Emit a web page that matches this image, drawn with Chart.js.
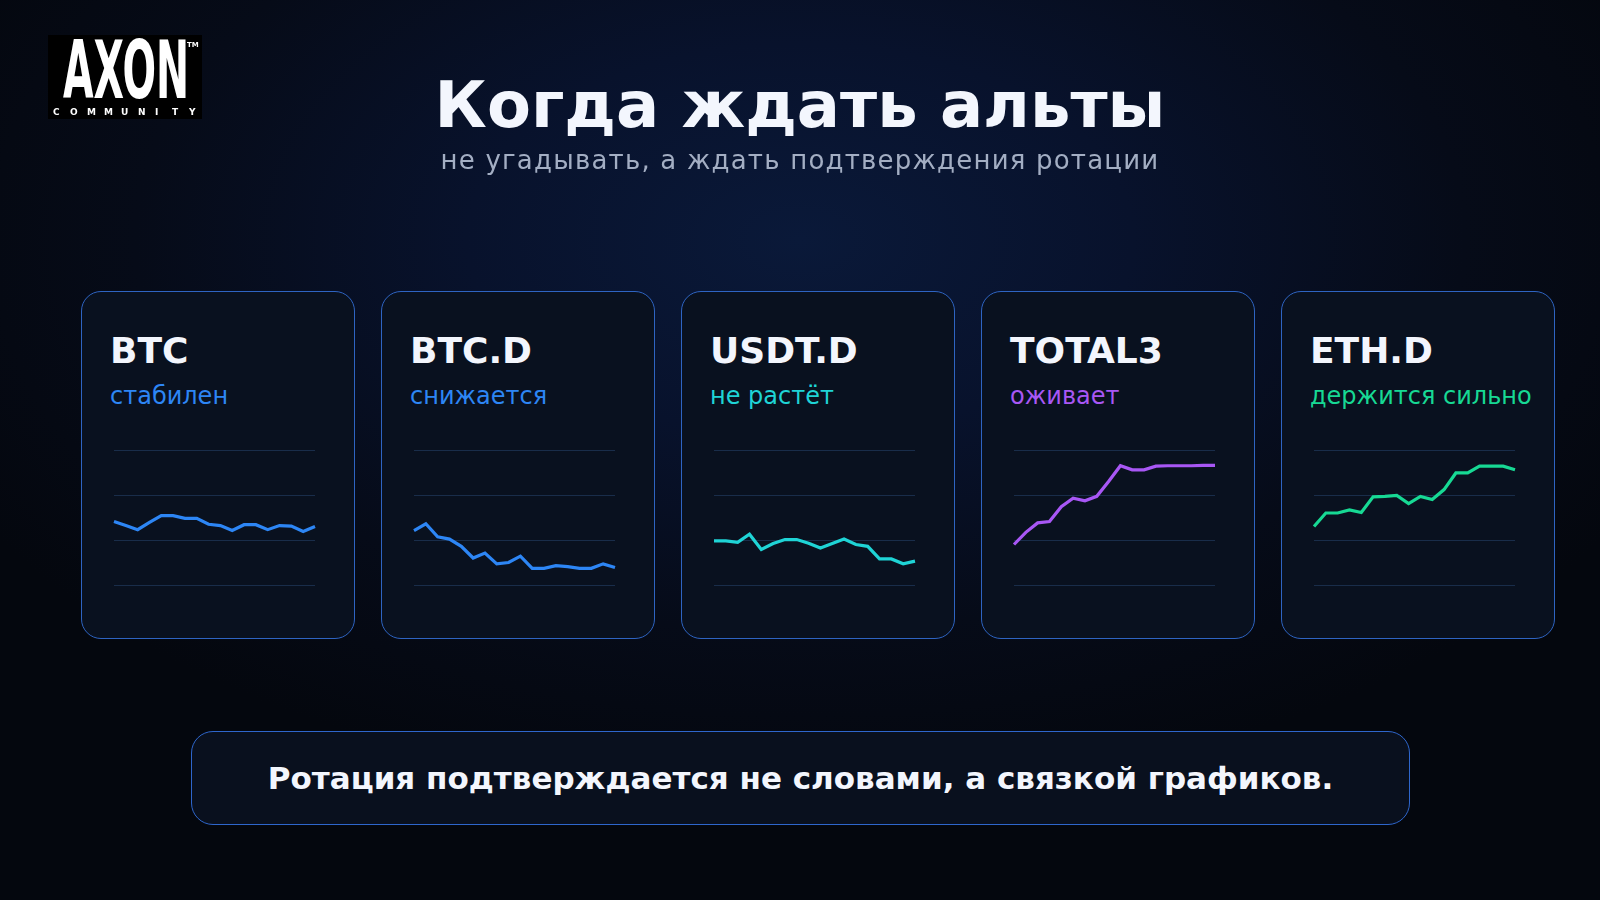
<!DOCTYPE html>
<html lang="ru">
<head>
<meta charset="utf-8">
<title>Когда ждать альты</title>
<script src="https://cdn.jsdelivr.net/npm/chart.js@4.4.1/dist/chart.umd.min.js"></script>
<style>
  html, body { margin: 0; padding: 0; }
  body {
    width: 1600px; height: 900px; overflow: hidden; position: relative;
    font-family: "DejaVu Sans", sans-serif;
    background: radial-gradient(ellipse 950px 560px at 800px 240px, #0a1939 0%, #08122c 35%, #060b18 70%, #04070e 100%);
  }
  .abs { position: absolute; line-height: 1; white-space: nowrap; }
  #title { left: 0; width: 1600px; top: 73px; text-align: center; font-size: 64px; font-weight: bold; color: #f3f6fd; }
  #subtitle { left: 0; width: 1600px; top: 147px; text-align: center; font-size: 26px; letter-spacing: 1.2px; color: #a3aec3; }
  .card {
    position: absolute; top: 291px; width: 274px; height: 348px; box-sizing: border-box;
    border: 1.5px solid #2e64c2; border-radius: 20px; background: #09111f;
  }
  .card .name { position: absolute; left: 28px; top: 41px; font-size: 36px; font-weight: bold; color: #f3f6fd; line-height: 1; }
  .card .state { position: absolute; left: 28px; top: 92px; font-size: 24px; line-height: 1; white-space: nowrap; }
  .card canvas { position: absolute; left: 29px; top: 155px; }
  #note {
    position: absolute; left: 191px; top: 731px; width: 1219px; height: 94px; box-sizing: border-box;
    border: 1.5px solid #2e66cc; border-radius: 22px; background: #09101e;
    display: flex; align-items: center; justify-content: center;
    font-size: 31px; font-weight: bold; color: #f3f6fd;
  }
  #logo { position: absolute; left: 48px; top: 35px; }
</style>
</head>
<body>
<canvas id="logo" width="154" height="84"></canvas>
<div id="title" class="abs">Когда ждать альты</div>
<div id="subtitle" class="abs">не угадывать, а ждать подтверждения ротации</div>
<div id="cards"></div>
<div id="note">Ротация подтверждается не словами, а связкой графиков.</div>

<script>
// 18 points per sparkline (scale 0..3, one grid line per unit)
const labels = ['1','2','3','4','5','6','7','8','9','10','11','12','13','14','15','16','17','18'];

const btcValues     = [1.41, 1.32, 1.23, 1.39, 1.54, 1.54, 1.48, 1.48, 1.35, 1.32, 1.21, 1.34, 1.34, 1.23, 1.32, 1.31, 1.19, 1.30];
const btcDomValues  = [1.21, 1.36, 1.07, 1.02, 0.86, 0.60, 0.71, 0.47, 0.50, 0.64, 0.37, 0.37, 0.43, 0.41, 0.37, 0.37, 0.47, 0.39];
const usdtDomValues = [0.98, 0.98, 0.95, 1.13, 0.79, 0.92, 1.01, 1.01, 0.93, 0.82, 0.92, 1.02, 0.90, 0.86, 0.58, 0.58, 0.47, 0.53];
const total3Values  = [0.90, 1.17, 1.38, 1.41, 1.74, 1.93, 1.87, 1.97, 2.30, 2.65, 2.56, 2.56, 2.64, 2.65, 2.65, 2.65, 2.66, 2.66];
const ethDomValues  = [1.30, 1.60, 1.60, 1.67, 1.61, 1.96, 1.97, 1.99, 1.81, 1.97, 1.90, 2.12, 2.49, 2.49, 2.64, 2.64, 2.64, 2.56];

const cardNames  = ['BTC', 'BTC.D', 'USDT.D', 'TOTAL3', 'ETH.D'];
const cardStates = ['стабилен', 'снижается', 'не растёт', 'оживает', 'держится сильно'];
const cardSeries = [btcValues, btcDomValues, usdtDomValues, total3Values, ethDomValues];
const cardColors = ['#2d86f5', '#2d86f5', '#1fd4d6', '#a857f5', '#17d994'];

const wrap = document.getElementById('cards');

cardNames.forEach((name, i) => {
    const card = document.createElement('div');
    card.className = 'card';
    card.style.left = (81 + i * 300) + 'px';
    card.innerHTML =
        '<div class="name">' + name + '</div>' +
        '<div class="state" style="color:' + cardColors[i] + '">' + cardStates[i] + '</div>' +
        '<canvas width="207" height="141"></canvas>';
    wrap.appendChild(card);

    new Chart(card.querySelector('canvas'), {
        type: 'line',
        data: {
            labels: labels,
            datasets: [{
                data: cardSeries[i],
                borderColor: cardColors[i],
                borderWidth: 3.2,
                pointRadius: 0,
                tension: 0,
                fill: false
            }]
        },
        options: {
            responsive: false,
            animation: false,
            layout: { padding: 3 },
            plugins: { legend: { display: false }, tooltip: { enabled: false } },
            scales: {
                x: { display: false },
                y: {
                    min: 0,
                    max: 3,
                    ticks: { display: false, stepSize: 1 },
                    border: { display: false },
                    grid: { color: 'rgba(58, 105, 165, 0.32)', lineWidth: 1, drawTicks: false }
                }
            }
        }
    });
});

// logo
const lc = document.getElementById('logo').getContext('2d');
lc.fillStyle = '#000';
lc.fillRect(0, 0, 154, 84);
lc.fillStyle = '#fff';
lc.font = 'bold 80px "DejaVu Sans Condensed", "DejaVu Sans"';
const m = lc.measureText('AXON');
lc.save();
lc.translate(15, 63);
lc.scale(126 / m.width, 1.0);
lc.fillText('AXON', 0, 0);
lc.restore();
lc.font = 'bold 7px "DejaVu Sans"';
lc.fillText('TM', 139, 12);
lc.font = 'bold 9px "DejaVu Sans"';
const word = 'COMMUNITY';
for (let k = 0; k < word.length; k++) {
    lc.fillText(word[k], 5 + k * 17, 80);
}
</script>
</body>
</html>
